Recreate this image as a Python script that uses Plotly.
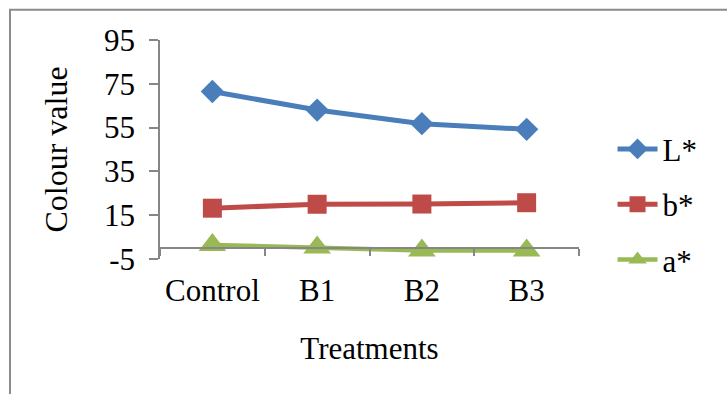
import plotly.graph_objects as go

categories = ["Control", "B1", "B2", "B3"]
L_values = [71.5, 63.0, 56.8, 54.2]
b_values = [18.2, 20.0, 20.1, 20.7]
a_values = [1.4, 0.3, -1.1, -1.1]
y_ticks = [-5, 15, 35, 55, 75, 95]
y_tick_text = ["-5", "15", "35", "55", "75", "95"]

FONT = "Liberation Serif, Times New Roman, serif"
AXIS_GRAY = "#868686"

fig = go.Figure()
series = [
    ("L*", L_values, "#4A7EBB", "diamond", 18, 5),
    ("b*", b_values, "#BE4B48", "square", 19, 5),
    ("a*", a_values, "#98B954", "triangle-up", 24, 4.5),
]
for name, vals, color, sym, msize, lw in series:
    fig.add_trace(go.Scatter(
        x=categories, y=vals, name=name, mode="lines+markers",
        line=dict(color=color, width=lw),
        marker=dict(symbol=sym, size=msize, color=color),
        legendgroup=name,
    ))

fig.update_layout(
    width=727, height=394,
    margin=dict(l=160, r=148, t=40, b=135),
    paper_bgcolor="white", plot_bgcolor="white",
    font=dict(family=FONT, size=31, color="black"),
    showlegend=True,
    legend=dict(
        x=1.08, y=0.25, xanchor="left", yanchor="middle",
        font=dict(family=FONT, size=31, color="black"),
        traceorder="grouped", tracegroupgap=12,
        bgcolor="rgba(0,0,0,0)", itemwidth=40,
    ),
    xaxis=dict(
        type="category", range=[-0.5, 3.5],
        anchor="free", position=0.05,
        showline=True, linecolor=AXIS_GRAY, linewidth=1.5,
        ticks="outside", tickson="boundaries", ticklen=7, tickcolor=AXIS_GRAY, tickwidth=1.5,
        ticklabelstandoff=15,
        showgrid=False,
        tickfont=dict(family=FONT, size=31),
        title=dict(text="Treatments", standoff=29, font=dict(family=FONT, size=31)),
    ),
    yaxis=dict(
        range=[-5, 95], tickmode="array", tickvals=y_ticks, ticktext=y_tick_text,
        showline=True, linecolor=AXIS_GRAY, linewidth=1.5,
        ticks="outside", ticklen=9, tickcolor=AXIS_GRAY, tickwidth=1.5,
        ticklabelstandoff=8,
        showgrid=False,
        tickfont=dict(family=FONT, size=31),
        zeroline=True, zerolinecolor=AXIS_GRAY, zerolinewidth=1.5,
        title=dict(text="Colour value", standoff=27, font=dict(family=FONT, size=32)),
    ),
    shapes=[dict(
        type="rect", xref="paper", yref="paper",
        x0=-0.358, x1=1.40, y0=-0.70, y1=1.138,
        line=dict(color="#8C8C8C", width=2), layer="below",
    )],
)

fig.write_html("out.html")
